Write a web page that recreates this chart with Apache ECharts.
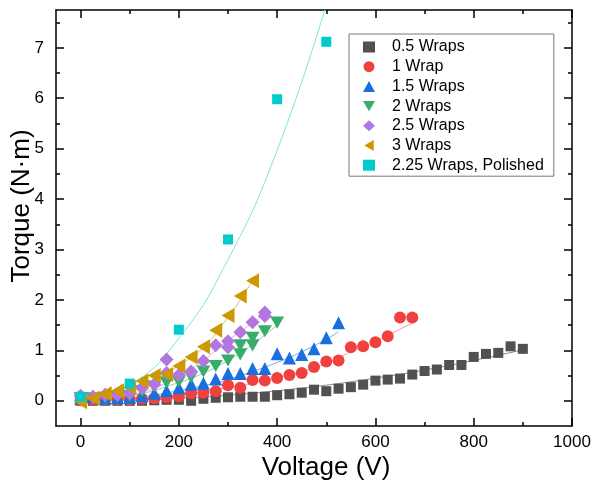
<!DOCTYPE html>
<html>
<head>
<meta charset="utf-8">
<script src="https://cdn.jsdelivr.net/npm/echarts@6/dist/echarts.min.js"></script>
<style>
html,body{margin:0;padding:0;background:#fff;}
#chart{width:600px;height:487px;}
</style>
</head>
<body>
<div id="chart"></div>
<script>
// ---- data (Voltage V, Torque N·m) ----
const seriesNames = ['0.5 Wraps','1 Wrap','1.5 Wraps','2 Wraps','2.5 Wraps','3 Wraps','2.25 Wraps, Polished'];

const wraps05 = [[0,0.0],[25,0.0],[50,0.0],[75,0.0],[100,0.0],[125,0.0],[150,0.01],[175,0.02],[200,0.02],[225,0.0],[250,0.04],[275,0.06],[300,0.07],[325,0.08],[350,0.08],[375,0.08],[400,0.11],[425,0.13],[450,0.16],[475,0.22],[500,0.19],[525,0.24],[550,0.27],[575,0.32],[600,0.40],[625,0.42],[650,0.44],[675,0.52],[700,0.59],[725,0.62],[750,0.71],[775,0.71],[800,0.87],[825,0.93],[850,0.95],[875,1.08],[900,1.03]];
const wraps1 = [[0,0.01],[25,0.02],[50,0.03],[75,0.03],[100,0.03],[125,0.04],[150,0.05],[175,0.07],[200,0.09],[225,0.15],[250,0.16],[275,0.19],[300,0.31],[325,0.26],[350,0.41],[375,0.40],[400,0.45],[425,0.51],[450,0.55],[475,0.67],[500,0.78],[525,0.80],[550,1.06],[575,1.08],[600,1.16],[625,1.28],[650,1.65],[675,1.65]];
const wraps15 = [[0,0.05],[25,0.08],[50,0.05],[75,0.06],[100,0.07],[125,0.10],[150,0.15],[175,0.20],[200,0.26],[225,0.33],[250,0.35],[275,0.43],[300,0.54],[325,0.54],[350,0.64],[375,0.64],[400,0.935],[425,0.85],[450,0.92],[475,1.03],[500,1.25],[525,1.55]];
const wraps2 = [[0,0.05],[25,0.05],[50,0.06],[75,0.08],[100,0.10],[125,0.19],[150,0.28],[175,0.36],[200,0.38],[225,0.47],[250,0.58],[275,0.69],[300,0.80],[325,0.92],[325,1.10],[350,1.10],[350,1.25],[375,1.38],[400,1.55]];
const wraps25 = [[0,0.10],[25,0.08],[50,0.12],[75,0.12],[100,0.15],[125,0.26],[150,0.33],[175,0.82],[175,0.55],[200,0.51],[225,0.58],[250,0.79],[275,1.10],[300,1.18],[300,1.06],[325,1.36],[350,1.56],[375,1.75],[375,1.68]];
const wraps3 = [[0,-0.02],[25,0.05],[50,0.14],[75,0.20],[100,0.27],[125,0.39],[150,0.50],[175,0.52],[200,0.69],[225,0.87],[250,1.07],[275,1.40],[300,1.69],[325,2.08],[350,2.38]];
const polished = [[0,0.08],[100,0.34],[200,1.41],[300,3.20],[400,5.98],[500,7.12]];

// fit curves
const fit05 = [[0,0],[100,0.01],[200,0.05],[300,0.11],[400,0.2],[500,0.31],[600,0.45],[700,0.61],[800,0.8],[900,1.01]];
const fit1 = [[0,0],[100,0.03],[200,0.11],[250,0.18],[300,0.26],[350,0.35],[400,0.46],[450,0.58],[500,0.74],[550,0.97],[600,1.18],[650,1.42],[675,1.54]];
const fit15 = [[0,0],[100,0.05],[200,0.2],[250,0.3],[300,0.42],[350,0.58],[400,0.76],[450,0.97],[500,1.22],[525,1.37]];
const fit2 = [[0,0.02],[100,0.1],[200,0.36],[250,0.55],[300,0.8],[350,1.12],[400,1.5]];
const fit25 = [[0,0.05],[100,0.13],[150,0.25],[200,0.48],[250,0.8],[275,1.0],[300,1.2],[325,1.37],[350,1.55],[375,1.73]];
const fit3 = [[0,0],[50,0.07],[100,0.2],[150,0.4],[200,0.7],[250,1.05],[275,1.33],[300,1.66],[325,2.0],[350,2.38]];
const fitPolished = [[0,0],[100,0.31],[200,1.24],[300,2.8],[400,4.97],[500,7.85]];

const xMajor = [0,200,400,600,800,1000];
const xMinor = [100,300,500,700,900];
const yMajor = [0,1,2,3,4,5,6,7];
const yMinor = [0.5,1.5,2.5,3.5,4.5,5.5,6.5,7.5];

// ---- styles ----
const colors = ['#515151','#F14040','#1A6FDF','#37AD6B','#B177DE','#CC9900','#00CBCC'];
const fitColors = ['#8a8a8a','#f79a9a','#7aa8ea','#8ccfa8','#cfaeea','#e0c060','#7fe3e3'];
const TRI_DOWN = 'path://M0,0L2,0L1,1.732Z';
const TRI_LEFT = 'path://M1.732,0L1.732,2L0,1Z';
const symbols = ['rect','circle','triangle',TRI_DOWN,'diamond',TRI_LEFT,'rect'];
const sizes = [10,12,13,14,14,15,10];
const pointData = [wraps05,wraps1,wraps15,wraps2,wraps25,wraps3,polished];
const fitData = [fit05,fit1,fit15,fit2,fit25,fit3,fitPolished];

const FONT = 'Liberation Sans, Arial, sans-serif';
const axisLineStyle = {color:'#000', width:1.5};
const X_MIN=-50, X_MAX=1000, Y_MIN=-0.5, Y_MAX=7.75;

function xAxis(pos, vals, len, showLine, labels, name){
  return {
    type:'value', min:X_MIN, max:X_MAX, position:pos,
    axisLine:{show:showLine, onZero:false, lineStyle:axisLineStyle},
    axisTick:{show:true, inside:true, length:len, customValues:vals, lineStyle:{color:'#000', width:1.5}},
    axisLabel: labels ? {show:true, customValues:vals, fontSize:17, color:'#000', fontFamily:FONT, margin:8,
                         formatter:v=>String(v)} : {show:false},
    splitLine:{show:false},
    name: name || '', nameLocation:'middle', nameGap:29, nameMoveOverlap:false,
    nameTextStyle:{fontSize:26, color:'#000', fontFamily:FONT, padding:[0,0,0,24]}
  };
}
function yAxis(pos, vals, len, showLine, labels, name){
  return {
    type:'value', min:Y_MIN, max:Y_MAX, position:pos,
    axisLine:{show:showLine, onZero:false, lineStyle:axisLineStyle},
    axisTick:{show:true, inside:true, length:len, customValues:vals, lineStyle:{color:'#000', width:1.5}},
    axisLabel: labels ? {show:true, customValues:vals, fontSize:17, color:'#000', fontFamily:FONT, margin:12,
                         formatter:v=>String(v)} : {show:false},
    splitLine:{show:false},
    name: name || '', nameLocation:'middle', nameGap:21, nameRotate:90, nameMoveOverlap:false,
    nameTextStyle:{fontSize:26, color:'#000', fontFamily:FONT, padding:[0,0,0,24]}
  };
}

const series = [];
fitData.forEach((d,i)=>{
  series.push({
    type:'line', name:'fit'+i, data:d, xAxisIndex:0, yAxisIndex:0,
    showSymbol:false, smooth:true, silent:true, z:1,
    lineStyle:{color:fitColors[i], width:1}
  });
});
pointData.forEach((d,i)=>{
  series.push({
    type:'scatter', name:seriesNames[i], data:d, xAxisIndex:0, yAxisIndex:0,
    symbol:symbols[i], symbolSize:sizes[i], symbolKeepAspect:true, z:2+i,
    itemStyle:{color:colors[i], opacity:1}
  });
});

const chart = echarts.init(document.getElementById('chart'), null, {renderer:'canvas'});
chart.setOption({
  animation:false,
  backgroundColor:'#fff',
  textStyle:{fontFamily:FONT},
  grid:{left:56, right:28, top:10, bottom:61, containLabel:false, outerBoundsMode:'none'},
  xAxis:[
    xAxis('bottom', xMajor, 8, true, true, 'Voltage (V)'),
    xAxis('bottom', xMinor, 4, false, false),
    xAxis('top', xMajor, 8, true, false),
    xAxis('top', xMinor, 4, false, false)
  ],
  yAxis:[
    yAxis('left', yMajor, 8, true, true, 'Torque (N·m)'),
    yAxis('left', yMinor, 4, false, false),
    yAxis('right', yMajor, 8, true, false),
    yAxis('right', yMinor, 4, false, false)
  ],
  legend:{
    data:seriesNames.map((n,i)=>({name:n, icon:symbols[i], itemStyle:{color:colors[i]}})),
    orient:'vertical', left:349, top:34,
    itemWidth:12, itemHeight:11, itemGap:3.7,
    symbolKeepAspect:true,
    padding:[5,10,3,14],
    borderColor:'#777', borderWidth:1, backgroundColor:'#fff',
    textStyle:{fontSize:16, color:'#000', fontFamily:FONT, padding:[0,0,0,12]}
  },
  series:series
});
</script>
</body>
</html>
